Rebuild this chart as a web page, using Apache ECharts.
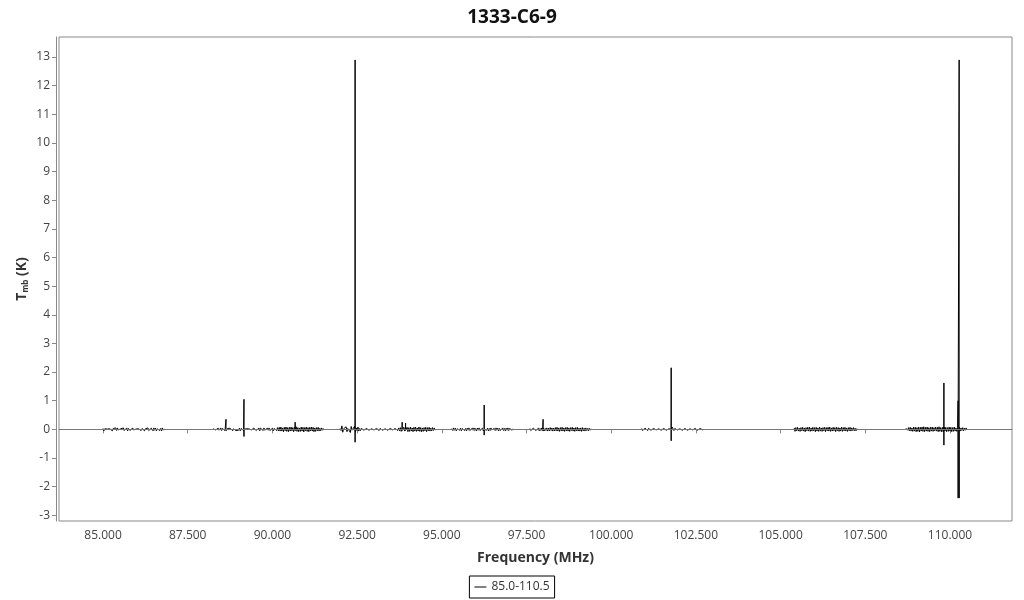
<!DOCTYPE html>
<html>
<head>
<meta charset="utf-8">
<script src="https://cdn.jsdelivr.net/npm/echarts@6/dist/echarts.min.js"></script>
<style>
  html, body { margin: 0; padding: 0; background: #fff; }
  #chart { width: 1024px; height: 600px; }
</style>
</head>
<body>
<div id="chart"></div>
<script>
// spectral windows: start frequency (MHz), channel step, baseline noise (K)
const segStart = [85.0, 88.25, 92.0, 95.3, 97.6, 100.9, 105.4, 108.7]
const segStep = 0.025
const segNoise = [
  [0.03,-0.05,0.02,0.05,-0.04,0.01,-0.05,0.04,0.02,-0.04,
   0.04,-0.05,0.03,-0.03,0.01,0.05,-0.04,0.05,-0.02,0.03,
   -0.05,0.02,0.04,-0.04,0.05,-0.04,0.01,-0.03,0.05,-0.05,
   0.03,0.05,-0.04,0.02,-0.04,0.05,-0.02,0.04,-0.05,0.01,
   0.04,-0.05,0.02,-0.04,0.05,-0.04,0.03,-0.03,0.05,-0.05,
   0.02,0.04,-0.04,0.05,-0.04,0.02,-0.05,0.04,0.01,-0.05,
   0.05,-0.03,0.04,-0.05,0.02,-0.03,0.05,-0.04,0.03,-0.05,
   0.05,-0.03,0.02],
  [0.02,-0.04,0.05,-0.02,0.03,-0.05,0.04,-0.03,0.01,0.05,
   -0.04,0.03,-0.02,0.05,-0.04,0.02,-0.05,0.03,0.01,-0.03,
   0.04,-0.02,0.03,-0.05,0.02,-0.03,0.05,-0.04,0.02,0.01,
   -0.03,0.04,-0.05,0.03,-0.02,0.05,-0.04,0.03,-0.05,0.02,
   0.04,-0.03,0.02,-0.04,0.05,-0.02,0.03,-0.05,0.04,-0.01,
   0.03,-0.04,0.02,-0.03,0.05,-0.05,0.04,-0.02,0.03,-0.04,
   0.05,-0.03,0.02,-0.05,0.04,-0.03,0.05,-0.04,0.02,-0.02,
   0.04,-0.05,0.03,-0.03,0.05,-0.04,0.06,-0.05,0.07,-0.06,
   0.08,-0.06,0.05,-0.08,0.07,-0.05,0.08,-0.07,0.06,-0.08,
   0.07,-0.06,0.08,-0.05,0.06,-0.08,0.07,-0.06,0.09,-0.07,
   0.06,-0.08,0.05,-0.07,0.08,-0.06,0.07,-0.09,0.06,-0.05,
   0.08,-0.07,0.06,-0.08,0.07,-0.05,0.08,-0.06,0.07,-0.08,
   0.05,-0.07,0.06,-0.05,0.07,-0.06,0.04,-0.05,0.05,-0.03,
   0.04],
  [0.03,-0.04,0.12,-0.10,0.02,-0.03,0.04,0.09,-0.08,0.03,
   -0.02,0.04,-0.11,0.10,-0.03,0.02,-0.07,0.11,-0.09,0.05,
   -0.04,0.08,-0.06,0.03,-0.04,0.03,-0.03,0.04,-0.03,0.02,
   -0.04,0.03,-0.02,0.04,-0.03,0.03,-0.04,0.02,-0.03,0.04,
   -0.02,0.03,-0.04,0.03,-0.03,0.02,-0.04,0.03,-0.02,0.04,
   -0.03,0.03,-0.04,0.02,-0.03,0.04,-0.03,0.02,-0.04,0.03,
   -0.03,0.04,-0.02,0.03,-0.04,0.03,-0.03,0.04,-0.04,0.05,
   -0.05,0.06,-0.07,0.05,-0.08,0.07,-0.06,0.08,-0.05,0.07,
   -0.08,0.06,-0.07,0.08,-0.06,0.05,-0.08,0.07,-0.06,0.08,
   -0.07,0.05,-0.06,0.08,-0.07,0.06,-0.08,0.05,-0.07,0.06,
   -0.05,0.07,-0.08,0.06,-0.05,0.07,-0.06,0.04,-0.05,0.06,
   -0.04,0.05,-0.03],
  [0.03,-0.04,0.05,-0.03,0.04,-0.05,0.02,-0.04,0.05,-0.03,
   0.04,-0.05,0.03,-0.02,0.05,-0.04,0.03,-0.05,0.04,-0.03,
   0.05,-0.04,0.02,-0.05,0.04,-0.03,0.05,-0.04,0.03,-0.05,
   0.04,-0.03,0.05,-0.04,0.02,-0.03,0.04,-0.05,0.03,-0.04,
   0.05,-0.03,0.04,-0.05,0.03,-0.04,0.05,-0.02,0.04,-0.05,
   0.03,-0.04,0.05,-0.03,0.04,-0.05,0.03,-0.04,0.02,-0.03,
   0.05,-0.04,0.03,-0.05,0.04,-0.03,0.05,-0.04,0.03,-0.02,
   0.04,-0.03,0.02],
  [0.03,-0.04,0.02,-0.03,0.04,-0.02,0.03,-0.04,0.02,-0.03,
   0.04,-0.05,0.03,-0.04,0.05,-0.03,0.04,-0.05,0.03,-0.04,
   0.05,-0.06,0.04,-0.05,0.06,-0.04,0.05,-0.06,0.04,-0.05,
   0.06,-0.05,0.07,-0.06,0.05,-0.07,0.06,-0.05,0.07,-0.06,
   0.05,-0.07,0.06,-0.05,0.07,-0.06,0.05,-0.07,0.06,-0.04,
   0.07,-0.06,0.05,-0.07,0.06,-0.05,0.07,-0.06,0.04,-0.06,
   0.05,-0.07,0.06,-0.05,0.04,-0.06,0.05,-0.04,0.03,-0.05,
   0.04,-0.03,0.02],
  [0.03,-0.04,0.02,-0.03,0.04,-0.02,0.03,-0.04,0.03,-0.02,
   0.04,-0.03,0.02,-0.04,0.03,-0.03,0.04,-0.02,0.03,-0.04,
   0.02,-0.03,0.04,-0.03,0.02,-0.04,0.03,-0.02,0.04,-0.03,
   0.03,-0.04,0.02,-0.03,0.04,0.05,0.08,0.04,-0.04,0.03,
   -0.03,0.04,-0.02,0.03,-0.04,0.02,-0.03,0.04,-0.03,0.02,
   -0.04,0.03,-0.02,0.04,-0.03,0.03,-0.04,0.02,-0.03,0.04,
   -0.02,0.03,-0.04,0.03,-0.02,0.04,-0.03,0.02,-0.03,0.03,
   -0.02,0.03,-0.02],
  [0.05,-0.07,0.06,-0.05,0.07,-0.06,0.04,-0.07,0.06,-0.05,
   0.07,-0.06,0.05,-0.08,0.06,-0.05,0.07,-0.06,0.08,-0.07,
   0.05,-0.06,0.07,-0.05,0.06,-0.08,0.07,-0.06,0.05,-0.07,
   0.08,-0.06,0.05,-0.07,0.06,-0.05,0.07,-0.08,0.06,-0.05,
   0.07,-0.06,0.08,-0.07,0.05,-0.06,0.07,-0.05,0.06,-0.08,
   0.07,-0.05,0.06,-0.07,0.05,-0.06,0.08,-0.07,0.06,-0.05,
   0.07,-0.06,0.05,-0.07,0.06,-0.05,0.07,-0.06,0.05,-0.04,
   0.06,-0.05,0.04,-0.05,0.03],
  [0.04,0.07,-0.03,0.06,-0.05,0.07,-0.06,0.05,-0.07,0.08,
   -0.06,0.07,-0.08,0.06,-0.07,0.08,-0.09,0.07,-0.06,0.08,
   -0.07,0.09,-0.08,0.07,-0.06,0.08,-0.07,0.06,-0.08,0.07,
   -0.06,0.08,-0.07,0.06,-0.05,0.08,-0.06,0.07,-0.08,0.09,
   -0.07,0.06,-0.08,0.07,-0.09,0.08,-0.06,0.07,-0.08,0.06,
   -0.07,0.08,-0.06,0.07,-0.08,0.06,-0.07,0.08,-0.06,0.05,
   -0.07,0.06,-0.05,0.07,-0.06,0.05,-0.04,0.06,-0.05,0.04,
   -0.03,0.05,-0.02],
]

// emission lines
const spikeFreq = [88.63, 89.16, 90.67, 92.44, 93.83, 93.93, 96.25, 97.99, 101.77, 109.82, 110.24, 110.27]
const spikePeak = [0.35, 1.05, 0.25, 12.9, 0.25, 0.22, 0.85, 0.35, 2.15, 1.62, 1.0, 12.9]
const spikeTrough = [-0.05, -0.25, -0.05, -0.45, -0.04, -0.04, -0.2, -0.06, -0.4, -0.55, -2.4, -2.4]

const xTicks = [85, 87.5, 90, 92.5, 95, 97.5, 100, 102.5, 105, 107.5, 110]
const yTicks = [-3, -2, -1, 0, 1, 2, 3, 4, 5, 6, 7, 8, 9, 10, 11, 12, 13]

function buildData() {
  const out = []
  segStart.forEach((start, s) => {
    const vals = segNoise[s]
    const end = start + (vals.length - 1) * segStep
    const pts = vals.map((v, i) => [start + i * segStep, v])
    spikeFreq.forEach((f, k) => {
      if (f >= start && f <= end) {
        pts.push([f, 0], [f, spikePeak[k]], [f, spikeTrough[k]], [f, 0])
      }
    })
    pts.sort((a, b) => a[0] - b[0])
    out.push(...pts)
    out.push([end + 0.01, null])
  })
  return out
}

const font = 'Open Sans'
const chart = echarts.init(document.getElementById('chart'))
chart.setOption({
  animation: false,
  textStyle: { fontFamily: font },
  title: {
    text: '1333-C6-9',
    left: 'center',
    top: 3,
    textStyle: { fontSize: 19, fontWeight: 'bold', color: '#111', fontFamily: font },
  },
  legend: {
    bottom: 2,
    left: 'center',
    data: ['85.0-110.5'],
    icon: 'path://M0,0 L12,0 L12,1 L0,1 Z',
    itemWidth: 12,
    itemHeight: 1,
    itemGap: 4,
    padding: [5, 5],
    borderColor: '#000',
    borderWidth: 1,
    textStyle: { fontSize: 12, color: '#333', fontFamily: font },
  },
  grid: {
    left: 59,
    right: 12,
    top: 37,
    bottom: 79,
    show: true,
    borderColor: '#888',
    borderWidth: 1,
  },
  xAxis: {
    type: 'value',
    min: 83.7,
    max: 111.83,
    offset: 3,
    name: 'Frequency (MHz)',
    nameLocation: 'middle',
    nameGap: 27,
    nameMoveOverlap: false,
    nameTextStyle: { fontSize: 14, fontWeight: 'bold', color: '#333', fontFamily: font },
    axisLine: { show: true, lineStyle: { color: '#888' } },
    axisTick: { show: true, length: 4, lineStyle: { color: '#888' }, customValues: xTicks },
    axisLabel: {
      color: '#444',
      fontSize: 12,
      margin: 6,
      customValues: xTicks,
      formatter: (v) => v.toFixed(3),
    },
    splitLine: { show: false },
  },
  yAxis: {
    type: 'value',
    min: -3.2,
    max: 13.7,
    offset: 3,
    name: '{a|T}{b|mb}{a| (K)}',
    nameLocation: 'middle',
    nameGap: 26,
    nameMoveOverlap: false,
    nameTextStyle: {
      rich: {
        a: { fontSize: 14, fontWeight: 'bold', color: '#333', fontFamily: font },
        b: { fontSize: 8, fontWeight: 'bold', color: '#333', fontFamily: font, padding: [7, 0, 0, 0] },
      },
    },
    axisLine: { show: true, lineStyle: { color: '#888' } },
    axisTick: { show: true, length: 4, lineStyle: { color: '#888' }, customValues: yTicks },
    axisLabel: { color: '#444', fontSize: 12, margin: 6, customValues: yTicks },
    splitLine: { show: false },
  },
  series: [
    {
      name: '85.0-110.5',
      type: 'line',
      data: buildData(),
      symbol: 'none',
      connectNulls: false,
      lineStyle: { color: '#000', width: 1 },
      itemStyle: { color: '#000' },
      markLine: {
        silent: true,
        symbol: 'none',
        label: { show: false },
        lineStyle: { color: '#777', width: 1, type: 'solid' },
        data: [{ yAxis: 0 }],
      },
      z: 3,
    },
  ],
})
</script>
</body>
</html>
